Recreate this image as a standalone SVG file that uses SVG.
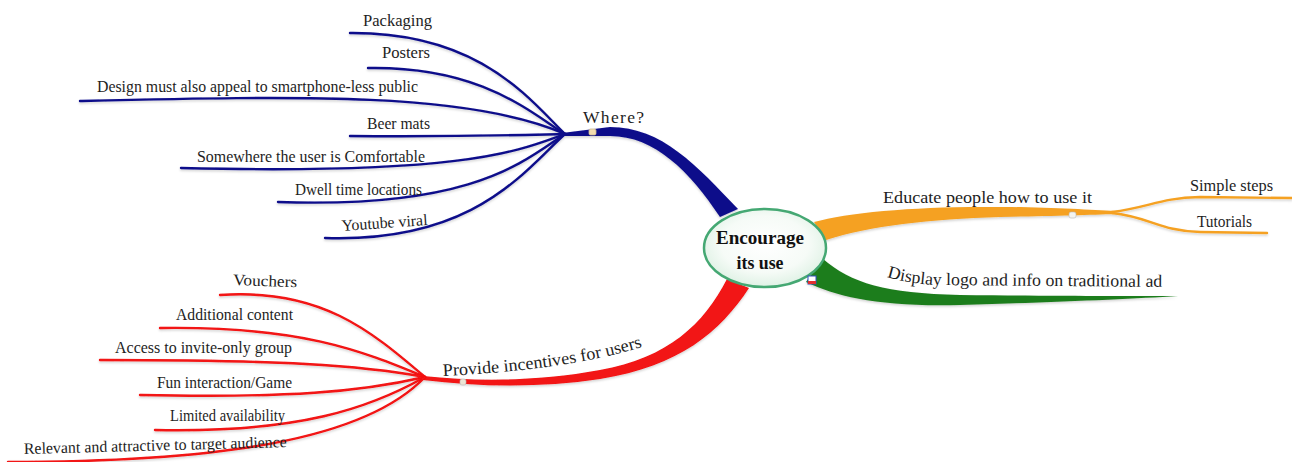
<svg xmlns="http://www.w3.org/2000/svg" width="1292" height="462" viewBox="0 0 1292 462">
  <defs>
    <radialGradient id="centerFill" cx="50%" cy="45%" r="60%">
      <stop offset="0" stop-color="#ffffff"/>
      <stop offset="0.6" stop-color="#f6fbf7"/>
      <stop offset="1" stop-color="#d9efe0"/>
    </radialGradient>
    <filter id="soft" x="-5%" y="-20%" width="110%" height="160%">
      <feDropShadow dx="0" dy="1.5" stdDeviation="1" flood-color="#000" flood-opacity="0.18"/>
    </filter>
  </defs>
  <style>
    text { font-family: "Liberation Serif", "Times New Roman", serif; fill: #1e1e1e; }
    .leaf { font-size: 16px; }
    .main { font-size: 17.5px; }
    .center { font-size: 19px; font-weight: bold; fill: #111; }
    .blue { stroke: #0c0c8a; fill: none; stroke-width: 2.4; stroke-linecap: round; }
    .red { stroke: #f21212; fill: none; stroke-width: 2.4; stroke-linecap: round; }
    .orange { stroke: #f5a122; fill: none; stroke-width: 2.4; stroke-linecap: round; }
    .blueFill { fill: #0c0c8a; }
    .redFill { fill: #f21212; }
    .orangeFill { fill: #f5a122; }
    .greenFill { fill: #1f7d1f; }
  </style>

  <!-- connectors: tapered main branches and thin sub-branches -->
  <g id="connectors" filter="url(#soft)">
    <!-- Where? -->
    <path class="blueFill" d="M 562,133 L 610,127 C 662,127 697,166 738,209 L 720,217 C 690,172 655,136 610,136 L 562,136 Z"/>
    <path class="blue" d="M 350,33 C 480,32 530,100 565,134"/>
    <path class="blue" d="M 368,68 C 480,66 530,112 565,134"/>
    <path class="blue" d="M 80,101 C 300,96 470,92 565,134"/>
    <path class="blue" d="M 350,136 C 460,137 520,135 565,134"/>
    <path class="blue" d="M 181,168 C 470,175 520,150 565,134"/>
    <path class="blue" d="M 278,202 C 475,209 525,160 565,134"/>
    <path class="blue" d="M 325,238 C 475,243 525,170 565,134"/>

    <!-- Provide incentives for users -->
    <path class="redFill" d="M 749,288 C 720,332 680,366 600,379 C 540,388 480,387 423,380 L 423,376 C 480,382 540,381 600,370 C 668,358 704,324 727,279 Z"/>
    <path class="red" d="M 220,295 C 320,288 370,330 425,377"/>
    <path class="red" d="M 160,328 C 300,326 360,350 425,377"/>
    <path class="red" d="M 100,360 C 280,360 360,365 425,377"/>
    <path class="red" d="M 140,395 C 290,398 360,392 425,377"/>
    <path class="red" d="M 155,430 C 300,433 370,408 425,377"/>
    <path class="red" d="M 8,462 C 220,462 365,440 425,377"/>

    <!-- Educate people how to use it -->
    <path class="orangeFill" d="M 814,222 C 850,212 920,206 1000,207 C 1050,207 1090,210 1115,211 L 1115,214 C 1090,215 1050,216 1000,217 C 930,219 870,226 826,240 Z"/>
    <path class="orange" d="M 1112,212 C 1150,207 1160,198 1200,197 L 1292,198"/>
    <path class="orange" d="M 1112,213 C 1150,217 1160,231 1200,232 L 1267,233"/>

    <!-- Display logo and info on traditional ad -->
    <path class="greenFill" d="M 822,258 C 852,284 885,293 960,295 C 1060,296 1130,296 1178,296 C 1130,299 1060,302 960,305 C 880,307 838,297 806,282 Z"/>
  </g>

  <!-- central topic -->
  <g id="center">
    <ellipse cx="765" cy="248" rx="61" ry="39" fill="url(#centerFill)" stroke="#45a873" stroke-width="2.5"/>
    <text class="center" x="760" y="244" text-anchor="middle" textLength="88" lengthAdjust="spacingAndGlyphs">Encourage</text>
    <text class="center" x="760" y="269" text-anchor="middle" textLength="47" lengthAdjust="spacingAndGlyphs">its use</text>
  </g>

  <!-- Where? -->
  <g id="where">
    <rect x="589" y="129" width="7" height="6" rx="1.5" fill="#f3dcae" stroke="#c9b98f" stroke-width="0.8"/>
    <text class="main" x="583" y="123" textLength="61" lengthAdjust="spacing">Where?</text>
  </g>
  <g id="packaging"><text class="leaf" x="363" y="26" textLength="69" lengthAdjust="spacingAndGlyphs">Packaging</text></g>
  <g id="posters"><text class="leaf" x="382" y="58" textLength="48" lengthAdjust="spacingAndGlyphs">Posters</text></g>
  <g id="design"><text class="leaf" x="97" y="92" textLength="321" lengthAdjust="spacingAndGlyphs">Design must also appeal to smartphone-less public</text></g>
  <g id="beer-mats"><text class="leaf" x="367" y="129" textLength="63" lengthAdjust="spacingAndGlyphs">Beer mats</text></g>
  <g id="somewhere"><text class="leaf" x="197" y="162" textLength="228" lengthAdjust="spacingAndGlyphs">Somewhere the user is Comfortable</text></g>
  <g id="dwell"><text class="leaf" x="295" y="195" textLength="127" lengthAdjust="spacingAndGlyphs">Dwell time locations</text></g>
  <g id="youtube"><text class="leaf" x="342" y="231" textLength="86" lengthAdjust="spacingAndGlyphs" transform="rotate(-4 342 231)">Youtube viral</text></g>

  <!-- Provide incentives for users -->
  <g id="incentives">
    <path id="incentivesBase" d="M 443,376 Q 570,370 645,346" fill="none"/>
    <rect x="460" y="379" width="6" height="6" rx="2" fill="#ece4d4" stroke="#bbb" stroke-width="0.6"/>
    <text class="main"><textPath href="#incentivesBase" textLength="202" lengthAdjust="spacingAndGlyphs">Provide incentives for users</textPath></text>
  </g>
  <g id="vouchers"><text class="leaf" x="233" y="285" textLength="64" lengthAdjust="spacingAndGlyphs" transform="rotate(2 233 285)">Vouchers</text></g>
  <g id="additional"><text class="leaf" x="176" y="320" textLength="117" lengthAdjust="spacingAndGlyphs">Additional content</text></g>
  <g id="access"><text class="leaf" x="115" y="353" textLength="177" lengthAdjust="spacingAndGlyphs">Access to invite-only group</text></g>
  <g id="fun"><text class="leaf" x="157" y="388" textLength="135" lengthAdjust="spacingAndGlyphs">Fun interaction/Game</text></g>
  <g id="limited"><text class="leaf" x="170" y="421" textLength="115" lengthAdjust="spacingAndGlyphs">Limited availability</text></g>
  <g id="relevant"><text class="leaf" x="24" y="454" textLength="263" lengthAdjust="spacingAndGlyphs" transform="rotate(-1.5 24 454)">Relevant and attractive to target audience</text></g>

  <!-- Educate people how to use it -->
  <g id="educate">
    <rect x="1069" y="212" width="7" height="6" rx="2" fill="#f4f4f0" stroke="#bbb" stroke-width="0.6"/>
    <text class="main" x="883" y="203" textLength="209" lengthAdjust="spacingAndGlyphs">Educate people how to use it</text>
  </g>
  <g id="simple-steps"><text class="leaf" x="1190" y="191" textLength="83" lengthAdjust="spacingAndGlyphs">Simple steps</text></g>
  <g id="tutorials"><text class="leaf" x="1197" y="227" textLength="55" lengthAdjust="spacingAndGlyphs">Tutorials</text></g>

  <!-- Display logo and info on traditional ad -->
  <g id="display">
    <rect x="808" y="276" width="8" height="8" fill="#ffffff" stroke="#3050c0" stroke-width="1"/>
    <rect x="808" y="281" width="8" height="3" fill="#e03030"/>
    <path id="displayBase" d="M 887,277 Q 905,283 935,285 L 1170,287" fill="none"/>
    <text class="main"><textPath href="#displayBase" textLength="276" lengthAdjust="spacingAndGlyphs">Display logo and info on traditional ad</textPath></text>
  </g>
</svg>
